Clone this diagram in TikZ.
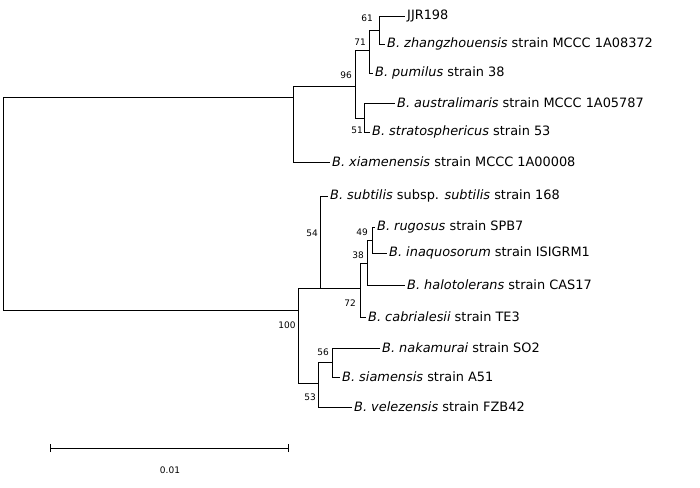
\documentclass[tikz,border=0pt]{standalone}
\usepackage{fontspec}
\setmainfont{DejaVu Sans}
\begin{document}
\begin{tikzpicture}[x=1pt,y=-1pt,
  br/.style={line width=0.7pt},
  tx/.style={anchor=west,inner sep=2pt,font=\fontsize{12.9}{14}\selectfont},
  bs/.style={font=\fontsize{9}{10}\selectfont,inner sep=1pt}]
\useasboundingbox (0,0) rectangle (700,487);
% internal nodes
\coordinate (root) at (3,200);
\coordinate (nA) at (293,97);
\coordinate (n96) at (355,86);
\coordinate (n71) at (369,50);
\coordinate (n61) at (379,30);
\coordinate (n51) at (364,118);
\coordinate (n100) at (298,310);
\coordinate (n54) at (320,288);
\coordinate (n72) at (360,288);
\coordinate (n38) at (367,263);
\coordinate (n49) at (372,240);
\coordinate (n53) at (318,383);
\coordinate (n56) at (332,362);
% leaves
\coordinate (l1) at (405,16);
\coordinate (l2) at (385,44);
\coordinate (l3) at (373,73);
\coordinate (l4) at (395,103);
\coordinate (l5) at (370,132);
\coordinate (l6) at (330,162);
\coordinate (l7) at (328,196);
\coordinate (l8) at (375,227);
\coordinate (l9) at (387,253);
\coordinate (l10) at (405,285);
\coordinate (l11) at (366,317);
\coordinate (l12) at (380,348);
\coordinate (l13) at (340,377);
\coordinate (l14) at (352,407);
\node[tx] (t1) at (l1) {JJR198};
\node[tx] (t2) at (l2) {\textit{B. zhangzhouensis} strain MCCC 1A08372};
\node[tx] (t3) at (l3) {\textit{B. pumilus} strain 38};
\node[tx] (t4) at (l4) {\textit{B. australimaris} strain MCCC 1A05787};
\node[tx] (t5) at (l5) {\textit{B. stratosphericus} strain 53};
\node[tx] (t6) at (l6) {\textit{B. xiamenensis} strain MCCC 1A00008};
\node[tx] (t7) at (l7) {\textit{B. subtilis} subsp. \textit{subtilis} strain 168};
\node[tx] (t8) at (l8) {\textit{B. rugosus} strain SPB7};
\node[tx] (t9) at (l9) {\textit{B. inaquosorum} strain ISIGRM1};
\node[tx] (t10) at (l10) {\textit{B. halotolerans} strain CAS17};
\node[tx] (t11) at (l11) {\textit{B. cabrialesii} strain TE3};
\node[tx] (t12) at (l12) {\textit{B. nakamurai} strain SO2};
\node[tx] (t13) at (l13) {\textit{B. siamensis} strain A51};
\node[tx] (t14) at (l14) {\textit{B. velezensis} strain FZB42};
% branches
\draw[br] (root) |- (nA); \draw[br] (root) |- (n100);
\draw[br] (nA) |- (n96); \draw[br] (nA) |- (l6);
\draw[br] (n96) |- (n71); \draw[br] (n96) |- (n51);
\draw[br] (n71) |- (n61); \draw[br] (n71) |- (l3);
\draw[br] (n61) |- (l1); \draw[br] (n61) |- (l2);
\draw[br] (n51) |- (l4); \draw[br] (n51) |- (l5);
\draw[br] (n100) |- (n54); \draw[br] (n100) |- (n53);
\draw[br] (n54) |- (l7); \draw[br] (n54) -- (n72);
\draw[br] (n72) |- (n38); \draw[br] (n72) |- (l11);
\draw[br] (n38) |- (n49); \draw[br] (n38) |- (l10);
\draw[br] (n49) |- (l8); \draw[br] (n49) |- (l9);
\draw[br] (n53) |- (n56); \draw[br] (n53) |- (l14);
\draw[br] (n56) |- (l12); \draw[br] (n56) |- (l13);
% bootstrap
\node[bs] at (367,18) {61};
\node[bs] at (360,42) {71};
\node[bs] at (346,75) {96};
\node[bs] at (357,130) {51};
\node[bs] at (312,233) {54};
\node[bs] at (362,232) {49};
\node[bs] at (358,255) {38};
\node[bs] at (350,303) {72};
\node[bs] at (287,325) {100};
\node[bs] at (323,352) {56};
\node[bs] at (310,397) {53};
% scale bar
\coordinate (s1) at (50,448); \coordinate (s2) at (288,448);
\draw[br] (s1) -- (s2);
\draw[br] ([yshift=-4pt]s1) -- ([yshift=4pt]s1);
\draw[br] ([yshift=-4pt]s2) -- ([yshift=4pt]s2);
\node[bs] (sl) at (170,470) {0.01};
\end{tikzpicture}
\end{document}
